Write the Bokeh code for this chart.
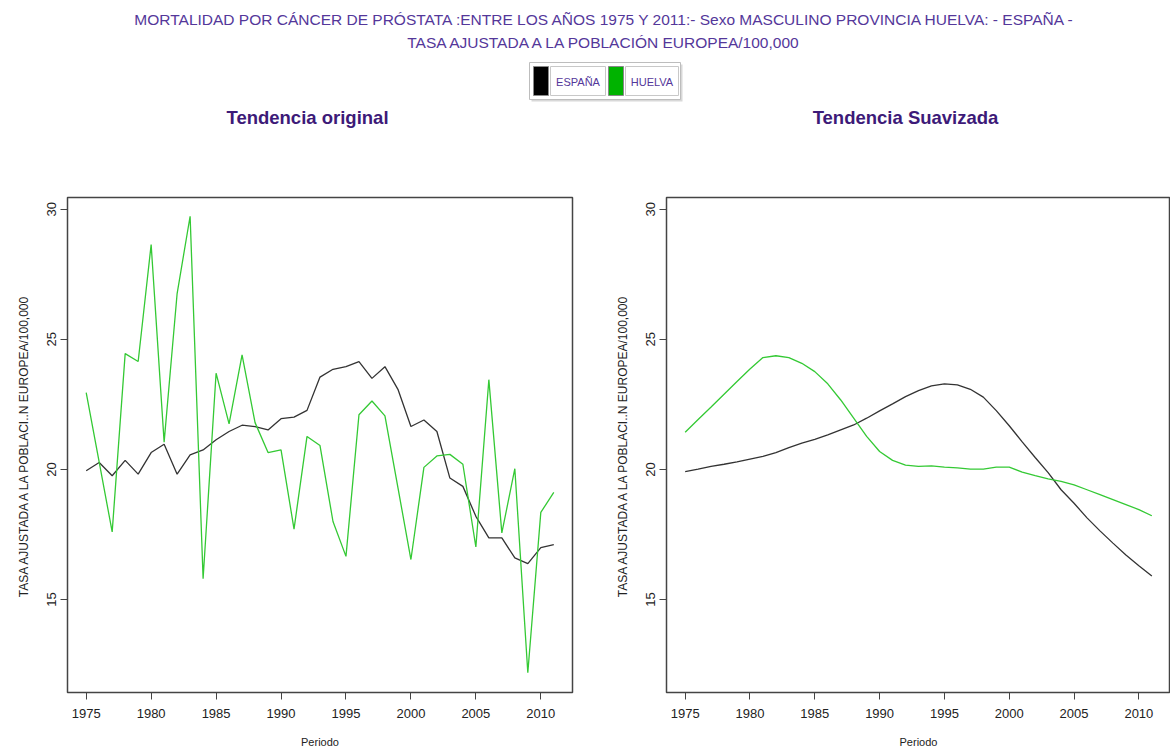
from bokeh.plotting import figure
from bokeh.layouts import column, row
from bokeh.models import Range1d, FixedTicker
from bokeh.core.properties import value
from bokeh.embed import file_html
from bokeh.resources import INLINE

# ---------------- data ----------------
years = list(range(1975, 2012))

espana_original = [19.95, 20.27, 19.76, 20.35, 19.82, 20.65, 20.97, 19.82, 20.56, 20.75,
                   21.14, 21.46, 21.70, 21.65, 21.52, 21.95, 22.01, 22.27, 23.55, 23.85,
                   23.95, 24.14, 23.50, 23.95, 23.08, 21.65, 21.90, 21.46, 19.67, 19.35,
                   18.20, 17.37, 17.37, 16.60, 16.38, 17.00, 17.11]

huelva_original = [22.95, 20.28, 17.60, 24.45, 24.15, 28.64, 21.05, 26.76, 29.73, 15.80,
                   23.70, 21.75, 24.40, 21.80, 20.65, 20.75, 17.71, 21.27, 20.92, 18.00,
                   16.66, 22.10, 22.63, 22.06, 19.30, 16.54, 20.08, 20.52, 20.58, 20.20,
                   17.02, 23.45, 17.56, 20.03, 12.19, 18.35, 19.12]

espana_suavizada = [19.92, 20.01, 20.12, 20.20, 20.29, 20.40, 20.50, 20.65, 20.84, 21.01,
                    21.16, 21.33, 21.52, 21.71, 21.97, 22.25, 22.52, 22.80, 23.03, 23.21,
                    23.29, 23.25, 23.08, 22.78, 22.26, 21.68, 21.06, 20.46, 19.88, 19.22,
                    18.70, 18.14, 17.64, 17.17, 16.71, 16.30, 15.91]

huelva_suavizada = [21.43, 21.92, 22.40, 22.89, 23.38, 23.86, 24.30, 24.37, 24.30, 24.08,
                    23.76, 23.29, 22.67, 21.97, 21.27, 20.69, 20.35, 20.17, 20.12, 20.14,
                    20.09, 20.06, 20.01, 20.01, 20.09, 20.09, 19.90, 19.76, 19.64, 19.54,
                    19.41, 19.22, 19.03, 18.84, 18.65, 18.46, 18.22]

x_ticks = [1975, 1980, 1985, 1990, 1995, 2000, 2005, 2010]
y_ticks = [15, 20, 25, 30]

series_names = ["ESPAÑA", "HUELVA"]
series_colors = ["#333333", "#34c934"]
legend_colors = ["#000000", "#00b300"]

title_line1 = "MORTALIDAD POR CÁNCER DE PRÓSTATA :ENTRE LOS AÑOS 1975 Y 2011:- Sexo MASCULINO PROVINCIA HUELVA: - ESPAÑA -"
title_line2 = "TASA AJUSTADA A LA POBLACIÓN EUROPEA/100,000"
panel_titles = ["Tendencia original", "Tendencia Suavizada"]
y_label = "TASA AJUSTADA A LA POBLACI..N EUROPEA/100,000"
x_label = "Periodo"

FONT = value("Liberation Sans")
TITLE_COLOR = "#54379a"
SUB_COLOR = "#3d1a78"

# ---------------- header ----------------
header = figure(width=1170, height=160, x_range=Range1d(0, 1170), y_range=Range1d(160, 0),
                toolbar_location=None, output_backend="svg",
                x_axis_location=None, y_axis_location=None, min_border=0)
header.grid.visible = False
header.outline_line_color = None

header.text(x=[605, 605], y=[19, 42], text=[title_line1, title_line2],
            text_font=FONT, text_font_size="15.5px", text_color=TITLE_COLOR,
            text_align="center", text_baseline="middle")

# legend box
header.quad(left=[531], right=[682], top=[64], bottom=[101], fill_color="#d8d8d8",
            line_color=None)
header.quad(left=[529], right=[680], top=[62], bottom=[99], fill_color="white",
            line_color="#bdbdbd", line_width=1)
header.quad(left=[533, 608], right=[548, 623], top=[66, 66], bottom=[95, 95],
            fill_color=legend_colors, line_color="#888888", line_width=1)
header.quad(left=[550, 625], right=[605, 678], top=[66, 66], bottom=[95, 95],
            fill_color="white", line_color="#c8c8c8", line_width=1)
header.text(x=[577.5, 651.5], y=[81, 81], text=series_names,
            text_font=FONT, text_font_size="11px", text_color=TITLE_COLOR,
            text_align="center", text_baseline="middle")

header.text(x=[307, 905], y=[117, 117], text=panel_titles,
            text_font=FONT, text_font_size="18.5px", text_font_style="bold",
            text_color=SUB_COLOR, text_align="center", text_baseline="middle")


def make_panel(esp, hue, border_left, border_right):
    p = figure(width=585, height=594,
               x_range=Range1d(1973.56, 2012.44), y_range=Range1d(11.43, 30.45),
               toolbar_location=None, output_backend="svg",
               min_border_left=border_left, min_border_right=border_right,
               min_border_top=37, min_border_bottom=62)
    p.grid.visible = False
    p.outline_line_color = "#444444"
    p.outline_line_width = 1.5
    p.line(years, esp, line_color=series_colors[0], line_width=1.3)
    p.line(years, hue, line_color=series_colors[1], line_width=1.3)

    p.xaxis.ticker = FixedTicker(ticks=x_ticks)
    p.yaxis.ticker = FixedTicker(ticks=y_ticks)
    for ax in (p.xaxis[0], p.yaxis[0]):
        ax.major_tick_out = 7
        ax.major_tick_in = 0
        ax.minor_tick_out = 0
        ax.minor_tick_in = 0
        ax.axis_line_color = "#444444"
        ax.major_tick_line_color = "#444444"
        ax.major_label_text_font = "Liberation Sans"
        ax.major_label_text_font_size = "13px"
        ax.major_label_text_color = "#222222"
        ax.axis_label_text_font = "Liberation Sans"
        ax.axis_label_text_font_style = "normal"
        ax.axis_label_text_color = "#222222"
    p.xaxis.axis_label = x_label
    p.yaxis.axis_label = y_label
    p.xaxis.axis_label_text_font_size = "11px"
    p.yaxis.axis_label_text_font_size = "12px"
    p.yaxis.major_label_orientation = "vertical"
    p.xaxis.major_label_standoff = 9
    p.yaxis.major_label_standoff = 4
    p.xaxis.axis_label_standoff = 15
    p.yaxis.axis_label_standoff = 14
    return p


p1 = make_panel(espana_original, huelva_original, 67, 13)
p2 = make_panel(espana_suavizada, huelva_suavizada, 81, 0)

layout = column(header, row(p1, p2, spacing=0), spacing=0)

open("out.html", "w").write(file_html(layout, INLINE))
